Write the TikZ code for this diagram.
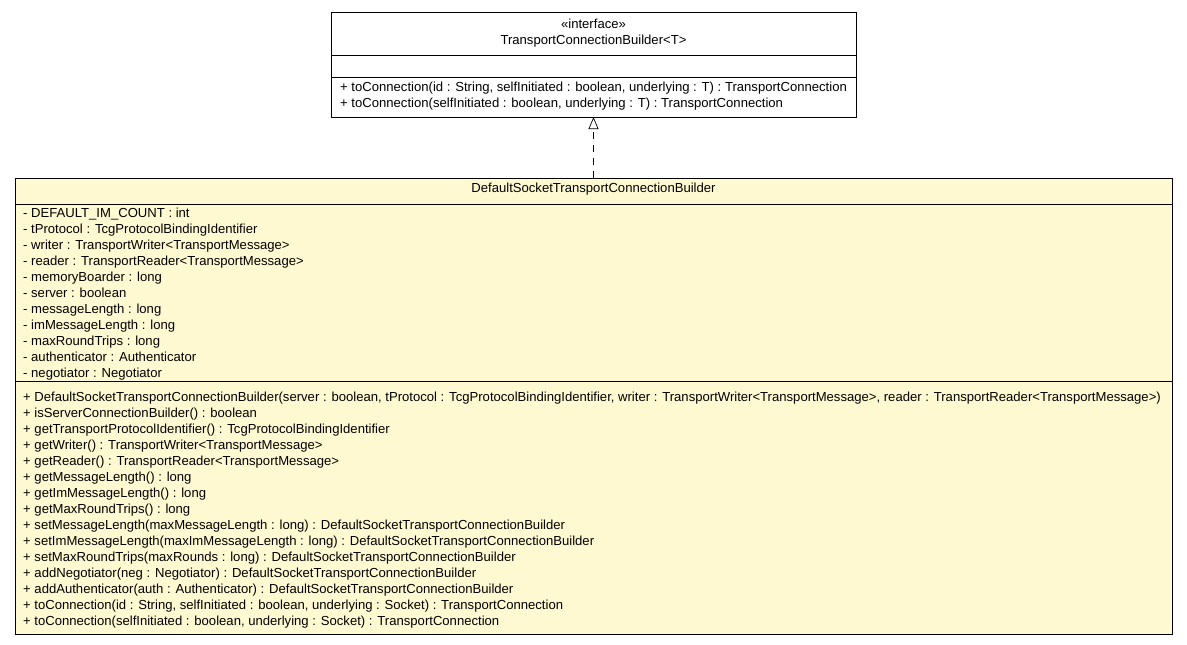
\documentclass[tikz,border=0pt]{standalone}
\usepackage{fontspec}
\setmainfont{Liberation Sans}
\usetikzlibrary{arrows.meta}
\definecolor{classfill}{RGB}{255,249,210}
\tikzset{
  umlbox/.style={draw=black, line width=0.9pt, inner sep=0pt, outer sep=0pt},
  ln/.style={anchor=base west, inner sep=0pt, font=\fontsize{13.1}{15}\selectfont},
  ttl/.style={anchor=base, inner sep=0pt, font=\fontsize{13.1}{15}\selectfont},
  divider/.style={draw=black, line width=0.9pt},
  realize/.style={draw=black, line width=0.7pt, dash pattern=on 7pt off 6pt, -{Triangle[open, length=12pt, width=10pt]}}
}
\begin{document}
\begin{tikzpicture}[x=1pt, y=-1pt]
\useasboundingbox (0,0) rectangle (1187,645);
% interface box
\node[umlbox, fill=white, minimum width=525pt, minimum height=105pt] (iface) at (593.5,64.5) {};
\draw[divider] (331,55) -- (856,55);
\draw[divider] (331,77) -- (856,77);
\node[ttl] (ifst) at (593.5,28) {«interface»};
\node[ttl] (ifname) at (593.5,44.5) {TransportConnectionBuilder<T>};
\node[ln] (ifm1) at (340,91.5) {+ toConnection(id : String, selfInitiated : boolean, underlying : T) : TransportConnection};
\node[ln] (ifm2) at (340,107.5) {+ toConnection(selfInitiated : boolean, underlying : T) : TransportConnection};
% implementation box
\node[umlbox, fill=classfill, minimum width=1157pt, minimum height=456pt] (impl) at (593.5,406) {};
\draw[divider] (15,204) -- (1172,204);
\draw[divider] (15,381) -- (1172,381);
\node[ttl] (implname) at (593.5,192.5) {DefaultSocketTransportConnectionBuilder};
\foreach \t [count=\i] in {
 {- DEFAULT\_IM\_COUNT : int},
 {- tProtocol : TcgProtocolBindingIdentifier},
 {- writer : TransportWriter<TransportMessage>},
 {- reader : TransportReader<TransportMessage>},
 {- memoryBoarder : long},
 {- server : boolean},
 {- messageLength : long},
 {- imMessageLength : long},
 {- maxRoundTrips : long},
 {- authenticator : Authenticator},
 {- negotiator : Negotiator}}
 \node[ln] (attr\i) at (23,{201.5+16*\i}) {\t};
\foreach \t [count=\i] in {
 {+ DefaultSocketTransportConnectionBuilder(server : boolean, tProtocol : TcgProtocolBindingIdentifier, writer : TransportWriter<TransportMessage>, reader : TransportReader<TransportMessage>)},
 {+ isServerConnectionBuilder() : boolean},
 {+ getTransportProtocolIdentifier() : TcgProtocolBindingIdentifier},
 {+ getWriter() : TransportWriter<TransportMessage>},
 {+ getReader() : TransportReader<TransportMessage>},
 {+ getMessageLength() : long},
 {+ getImMessageLength() : long},
 {+ getMaxRoundTrips() : long},
 {+ setMessageLength(maxMessageLength : long) : DefaultSocketTransportConnectionBuilder},
 {+ setImMessageLength(maxImMessageLength : long) : DefaultSocketTransportConnectionBuilder},
 {+ setMaxRoundTrips(maxRounds : long) : DefaultSocketTransportConnectionBuilder},
 {+ addNegotiator(neg : Negotiator) : DefaultSocketTransportConnectionBuilder},
 {+ addAuthenticator(auth : Authenticator) : DefaultSocketTransportConnectionBuilder},
 {+ toConnection(id : String, selfInitiated : boolean, underlying : Socket) : TransportConnection},
 {+ toConnection(selfInitiated : boolean, underlying : Socket) : TransportConnection}}
 \node[ln] (meth\i) at (23,{385.5+16*\i}) {\t};
% realization
\draw[realize] (impl.north) -- (iface.south);
\end{tikzpicture}
\end{document}
